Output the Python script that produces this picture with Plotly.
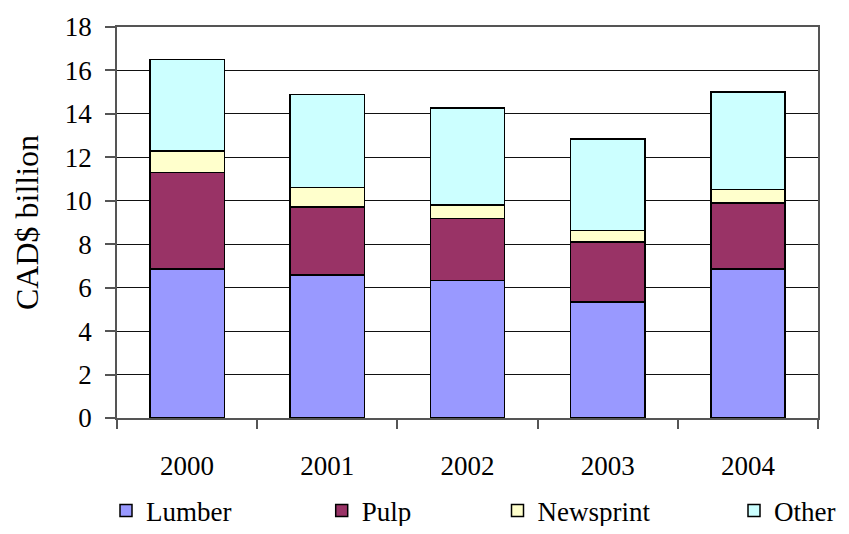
import plotly.graph_objects as go

years = ["2000", "2001", "2002", "2003", "2004"]
lumber = [6.87, 6.58, 6.32, 5.34, 6.87]
pulp = [4.44, 3.13, 2.86, 2.76, 3.03]
newsprint = [0.98, 0.91, 0.63, 0.54, 0.61]
other = [4.21, 4.28, 4.46, 4.21, 4.49]

series_names = ["Lumber", "Pulp", "Newsprint", "Other"]
series_vals = [lumber, pulp, newsprint, other]
colors = ["#9999FF", "#993366", "#FFFFCC", "#CCFFFF"]
legend_ids = ["legend", "legend2", "legend3", "legend4"]

FONT = "Liberation Serif"

fig = go.Figure()
for name, vals, col, lg in zip(series_names, series_vals, colors, legend_ids):
    fig.add_trace(go.Bar(
        x=years, y=vals, name=name, legend=lg,
        marker=dict(color=col, line=dict(color="black", width=1.5)),
        width=0.53,
    ))

# page body has an 8px margin, so the figure is drawn 8px in from the window corner
OFF = 8
W, H = 849 - 2 * OFF, 534 - 2 * OFF
ml, mt = 117 - OFF, 27 - OFF
pw, ph = 701, 391
mr = W - ml - pw
mb = H - mt - ph

leg_centers = [126, 341.7, 517.5, 754]
legends = {}
for lg, cx in zip(legend_ids, leg_centers):
    legends[lg] = dict(
        xref="container", yref="container",
        x=(cx - OFF - 20) / W, y=1 - (511 - OFF) / H, xanchor="left", yanchor="middle",
        orientation="h", font=dict(family=FONT, size=27, color="black"),
        bgcolor="rgba(0,0,0,0)", borderwidth=0,
    )

fig.update_layout(
    width=W, height=H,
    margin=dict(l=ml, r=mr, t=mt, b=mb, autoexpand=False),
    barmode="stack",
    plot_bgcolor="white", paper_bgcolor="white",
    font=dict(family=FONT, size=27, color="black"),
    showlegend=True,
    **legends,
)

fig.update_xaxes(
    automargin=False,
    showline=True, linecolor="#555", linewidth=1.5, mirror=True,
    ticks="outside", tickson="boundaries", ticklen=9, tickcolor="#555", tickwidth=1.5,
    ticklabelstandoff=23,
    tickfont=dict(family=FONT, size=27, color="black"),
    showgrid=False,
)
fig.update_yaxes(
    automargin=False,
    range=[0, 18], dtick=2, tick0=0,
    showline=True, linecolor="#555", linewidth=1.5, mirror=True,
    ticks="outside", ticklen=10, tickcolor="#555", tickwidth=1.5,
    ticklabelstandoff=8,
    showgrid=True, gridcolor="#111", gridwidth=1,
    zeroline=False,
    tickfont=dict(family=FONT, size=27, color="black"),
    title=dict(text="CAD$ billion", font=dict(family=FONT, size=32, color="black"), standoff=17),
)

fig.write_html("out.html")
